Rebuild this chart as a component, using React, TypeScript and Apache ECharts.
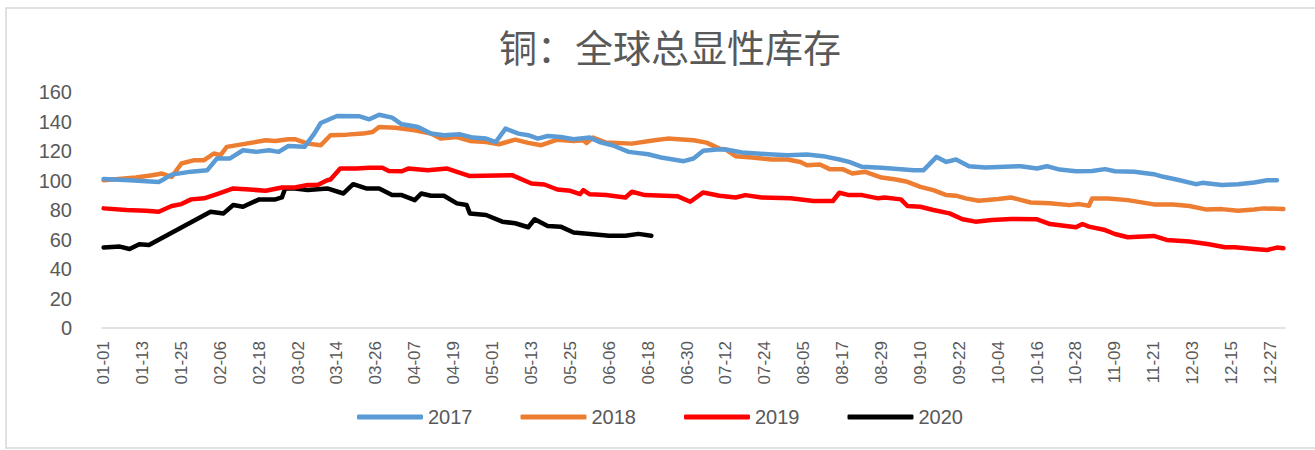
import React, { useEffect, useRef } from "react";
import * as echarts from "echarts";

const TITLE = "铜：全球总显性库存";
const SERIES_NAMES = ["2017", "2018", "2019", "2020"];
const COLORS = ["#5B9BD5", "#ED7D31", "#FF0000", "#000000"];
const Y_MIN = 0;
const Y_MAX = 160;
const Y_STEP = 20;

const MONTH_DAYS = [31, 28, 31, 30, 31, 30, 31, 31, 30, 31, 30, 31];
const pad = (n: number) => (n < 10 ? "0" + n : "" + n);
const categories: string[] = [];
MONTH_DAYS.forEach((days, m) => {
  for (let d = 1; d <= days; d++) categories.push(pad(m + 1) + "-" + pad(d));
});

const data2017: [string, number][] = [
  ["01-01", 101], ["01-09", 100.2], ["01-18", 99], ["01-20", 101.4], ["01-22", 104],
  ["01-28", 106], ["02-02", 107], ["02-05", 115], ["02-09", 115], ["02-13", 120.5],
  ["02-17", 119.4], ["02-21", 120.5], ["02-24", 119.4], ["02-27", 123.4], ["03-04", 122.8],
  ["03-07", 131.8], ["03-09", 139], ["03-14", 143.7], ["03-21", 143.5], ["03-24", 141.5],
  ["03-27", 144.6], ["03-31", 142.6], ["04-03", 138.1], ["04-05", 137.4], ["04-08", 136.3],
  ["04-12", 131.8], ["04-16", 130.7], ["04-21", 131.3], ["04-25", 129.1], ["04-29", 128.4],
  ["05-02", 126.1], ["05-05", 135.2], ["05-09", 131.8], ["05-12", 130.7], ["05-15", 128.4],
  ["05-18", 130.2], ["05-22", 129.5], ["05-26", 128], ["05-31", 129.1], ["06-03", 126.1],
  ["06-07", 123.9], ["06-12", 119.4], ["06-18", 117.8], ["06-22", 115.6], ["06-29", 113.1],
  ["07-02", 114.9], ["07-05", 120.1], ["07-10", 121.2], ["07-12", 121], ["07-17", 119],
  ["07-25", 117.8], ["07-31", 117.1], ["08-06", 117.6], ["08-11", 116.5], ["08-16", 114.2],
  ["08-19", 112.6], ["08-23", 109.3], ["08-29", 108.6], ["09-04", 107.7], ["09-08", 107],
  ["09-11", 107], ["09-15", 116], ["09-18", 112.6], ["09-21", 114.2], ["09-25", 109.7],
  ["09-30", 108.8], ["10-11", 109.7], ["10-16", 108.1], ["10-19", 109.7], ["10-23", 107.4],
  ["10-28", 106.3], ["11-02", 106.5], ["11-06", 107.7], ["11-09", 106.3], ["11-15", 105.9],
  ["11-21", 104.3], ["11-24", 102.5], ["11-28", 100.7], ["12-04", 97.5], ["12-06", 98.4],
  ["12-12", 96.9], ["12-17", 97.5], ["12-22", 98.7], ["12-26", 100.2], ["12-29", 100.2],
];

const data2018: [string, number][] = [
  ["01-01", 100.2], ["01-11", 102], ["01-16", 103.6], ["01-19", 104.7], ["01-22", 102.5],
  ["01-25", 111.5], ["01-29", 113.8], ["02-01", 113.8], ["02-04", 118.3], ["02-06", 117.1],
  ["02-08", 122.8], ["02-14", 125], ["02-20", 127.3], ["02-23", 126.8], ["02-27", 128],
  ["03-01", 128], ["03-05", 125], ["03-09", 123.9], ["03-12", 130.7], ["03-17", 131.1],
  ["03-22", 131.8], ["03-25", 132.9], ["03-27", 136.3], ["04-01", 135.8], ["04-07", 134],
  ["04-12", 131.8], ["04-15", 128.4], ["04-20", 129.5], ["04-24", 126.8], ["04-29", 126.1],
  ["05-03", 124.6], ["05-08", 127.7], ["05-12", 125.5], ["05-16", 123.9], ["05-21", 127.7],
  ["05-26", 126.8], ["05-29", 127.3], ["05-30", 125.5], ["06-01", 129.1], ["06-05", 125.7],
  ["06-13", 125], ["06-20", 127.3], ["06-24", 128.4], ["07-02", 127.3], ["07-06", 125.7],
  ["07-10", 121.6], ["07-12", 121], ["07-15", 116.5], ["07-20", 115.6], ["07-26", 114.2],
  ["07-31", 114.2], ["08-04", 112.6], ["08-06", 110.4], ["08-10", 110.8], ["08-13", 107.7],
  ["08-17", 107.7], ["08-20", 104.7], ["08-24", 105.9], ["08-29", 102], ["09-02", 100.9],
  ["09-06", 99.1], ["09-10", 95.7], ["09-14", 93.5], ["09-18", 90.1], ["09-21", 89.7],
  ["09-24", 87.9], ["09-28", 86.3], ["10-04", 87.4], ["10-08", 88.5], ["10-14", 85.1],
  ["10-20", 84.5], ["10-26", 83.3], ["10-29", 84], ["11-01", 82.9], ["11-02", 87.8],
  ["11-07", 87.8], ["11-13", 86.7], ["11-21", 83.8], ["11-27", 83.8], ["12-02", 82.7],
  ["12-07", 80.4], ["12-12", 80.6], ["12-17", 79.5], ["12-22", 80.4], ["12-25", 81.1],
  ["12-31", 80.6],
];

const data2019: [string, number][] = [
  ["01-01", 81.1], ["01-08", 80], ["01-14", 79.5], ["01-18", 78.8], ["01-22", 82.7],
  ["01-25", 84], ["01-28", 87.2], ["02-01", 87.9], ["02-05", 90.8], ["02-10", 94.6],
  ["02-15", 93.9], ["02-20", 93], ["02-25", 95.3], ["03-01", 95.3], ["03-05", 96.9],
  ["03-08", 96.9], ["03-11", 100.2], ["03-12", 100.7], ["03-15", 108.1], ["03-20", 108.1],
  ["03-24", 108.6], ["03-28", 108.6], ["03-30", 106.5], ["04-03", 106.3], ["04-05", 108.1],
  ["04-11", 107], ["04-17", 108.1], ["04-24", 103], ["05-07", 103.6], ["05-13", 98],
  ["05-17", 97.3], ["05-21", 93.9], ["05-25", 93], ["05-28", 90.8], ["05-29", 93.5],
  ["05-31", 90.6], ["06-05", 90.1], ["06-11", 88.5], ["06-13", 92.4], ["06-17", 90.1],
  ["06-27", 89.4], ["07-01", 85.6], ["07-05", 91.9], ["07-10", 89.7], ["07-15", 88.5],
  ["07-18", 90.1], ["07-23", 88.5], ["08-01", 87.9], ["08-08", 86.1], ["08-14", 86.1],
  ["08-16", 91.7], ["08-19", 90.1], ["08-23", 90.1], ["08-28", 87.9], ["08-30", 88.5],
  ["09-04", 87.2], ["09-06", 82.7], ["09-10", 82.2], ["09-14", 80], ["09-19", 77.7],
  ["09-23", 73.7], ["09-27", 72.1], ["10-02", 73.2], ["10-08", 73.9], ["10-16", 73.7],
  ["10-20", 70.5], ["10-28", 68.3], ["10-30", 70.5], ["11-01", 68.7], ["11-06", 66.4],
  ["11-09", 63.7], ["11-13", 61.5], ["11-21", 62.4], ["11-25", 59.7], ["12-02", 58.6],
  ["12-08", 56.8], ["12-13", 54.7], ["12-16", 54.7], ["12-22", 53.6], ["12-26", 52.9],
  ["12-29", 54.5], ["12-31", 54.1],
];

const data2020: [string, number][] = [
  ["01-01", 54.5], ["01-06", 55.2], ["01-09", 53.6], ["01-12", 56.8], ["01-15", 56.3],
  ["02-03", 78.8], ["02-07", 77.7], ["02-10", 83.4], ["02-13", 82.2], ["02-18", 87.2],
  ["02-23", 87.2], ["02-25", 88.5], ["02-26", 94.6], ["03-01", 94.6], ["03-05", 93.5],
  ["03-11", 94.6], ["03-16", 91.2], ["03-19", 97.5], ["03-23", 94.6], ["03-27", 94.6],
  ["03-31", 90.1], ["04-03", 90.1], ["04-07", 86.7], ["04-09", 91.2], ["04-12", 89.7],
  ["04-16", 89.7], ["04-20", 84.5], ["04-23", 83.4], ["04-24", 77.7], ["04-29", 76.6],
  ["05-04", 72.1], ["05-08", 71], ["05-12", 68.3], ["05-14", 73.7], ["05-18", 69.2],
  ["05-22", 68.7], ["05-26", 64.7], ["06-01", 63.5], ["06-06", 62.6], ["06-11", 62.6],
  ["06-15", 63.8], ["06-19", 62.6],
];

const SERIES_DATA = [data2017, data2018, data2019, data2020];

const FONT = "'Liberation Sans', Arial, 'Noto Sans CJK SC', sans-serif";
const TEXT_COLOR = "#595959";

export default function App() {
  const ref = useRef<HTMLDivElement>(null);

  useEffect(() => {
    if (!ref.current) return;
    const chart = echarts.init(ref.current, undefined, { renderer: "svg" });
    chart.setOption({
      animation: false,
      backgroundColor: "#ffffff",
      title: {
        text: TITLE,
        left: 665,
        textAlign: "center",
        top: 21,
        textStyle: {
          fontFamily: "'Noto Sans CJK SC', sans-serif",
          fontSize: 38,
          fontWeight: "normal",
          color: TEXT_COLOR,
        },
      },
      graphic: [
        {
          type: "rect",
          shape: { x: 6, y: 8, width: 1330, height: 440 },
          style: { fill: "none", stroke: "#d9d9d9", lineWidth: 1.5 },
          silent: true,
          z: -1,
        },
      ],
      legend: {
        data: SERIES_NAMES,
        left: 357,
        top: 407,
        padding: 0,
        icon: "roundRect",
        itemWidth: 66,
        itemHeight: 5,
        itemGap: 48,
        textStyle: { fontFamily: FONT, fontSize: 20, color: TEXT_COLOR },
      },
      grid: { left: 102, right: 30, top: 92, bottom: 122, containLabel: false },
      xAxis: {
        type: "category",
        data: categories,
        boundaryGap: true,
        axisLine: { show: true, lineStyle: { color: "#d9d9d9", width: 1.5 } },
        axisTick: { show: false },
        splitLine: { show: false },
        axisLabel: {
          interval: 11,
          rotate: 90,
          margin: 13,
          fontFamily: FONT,
          fontSize: 17,
          color: TEXT_COLOR,
        },
      },
      yAxis: {
        type: "value",
        min: Y_MIN,
        max: Y_MAX,
        interval: Y_STEP,
        axisLine: { show: false },
        axisTick: { show: false },
        splitLine: { show: false },
        axisLabel: {
          margin: 30,
          fontFamily: FONT,
          fontSize: 20,
          color: TEXT_COLOR,
        },
      },
      series: SERIES_NAMES.map((name, i) => ({
        name,
        type: "line",
        data: SERIES_DATA[i],
        symbol: "none",
        smooth: false,
        color: COLORS[i],
        itemStyle: { color: COLORS[i] },
        lineStyle: { color: COLORS[i], width: 4.5, cap: "round", join: "round" },
        z: 2 + (3 - i),
      })),
    });
    return () => chart.dispose();
  }, []);

  return (
    <div
      ref={ref}
      style={{ position: "absolute", left: 0, top: 0, width: 1315, height: 450 }}
    />
  );
}
